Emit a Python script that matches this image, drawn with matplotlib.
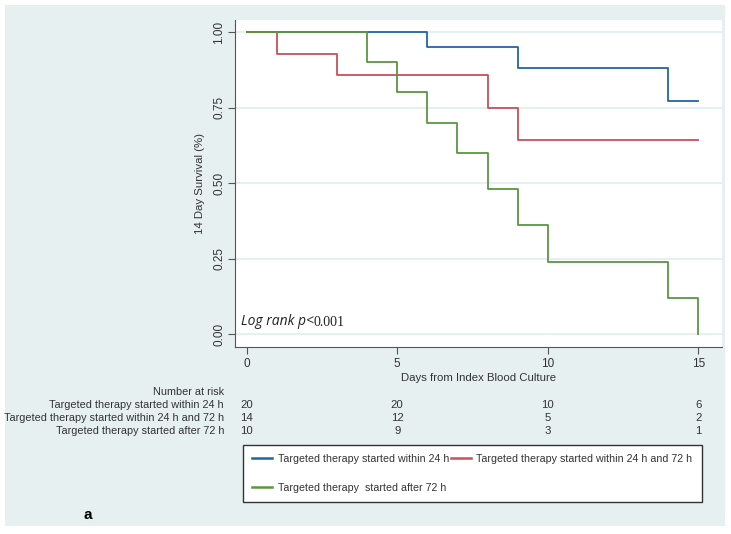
import matplotlib
matplotlib.use('Agg')
import matplotlib.pyplot as plt
from matplotlib.patches import Rectangle
from matplotlib.transforms import blended_transform_factory

# Kaplan-Meier step data
days_24 = [0, 6, 9, 14, 15]
surv_24 = [1.00, 0.95, 0.882, 0.772, 0.772]
days_24_72 = [0, 1, 3, 8, 9, 15]
surv_24_72 = [1.00, 0.929, 0.857, 0.75, 0.643, 0.643]
days_72 = [0, 4, 5, 6, 7, 8, 9, 10, 14, 15]
surv_72 = [1.00, 0.90, 0.80, 0.70, 0.60, 0.48, 0.36, 0.24, 0.12, 0.00]

group_labels = ['Targeted therapy started within 24 h',
                'Targeted therapy started within 24 h and 72 h',
                'Targeted therapy started after 72 h']
legend_labels = ['Targeted therapy started within 24 h',
                 'Targeted therapy started within 24 h and 72 h',
                 'Targeted therapy  started after 72 h']
risk_times = [0, 5, 10, 15]
at_risk = [[20, 20, 10, 6],
           [14, 12, 5, 2],
           [10, 9, 3, 1]]

x_ticks = [0, 5, 10, 15]
y_ticks = [0.0, 0.25, 0.5, 0.75, 1.0]

colors = ['#2166a0', '#c8505a', '#5b9640']
bg = '#e6f0f1'
W, H = 731, 534

plt.rcParams['font.family'] = ['Liberation Sans', 'DejaVu Sans']

fig = plt.figure(figsize=(W / 100, H / 100), dpi=100, facecolor='white')
fig.patches.append(Rectangle((5 / W, 1 - 526 / H), 720 / W, 521 / H,
                             transform=fig.transFigure, facecolor=bg,
                             edgecolor='none', zorder=-10))

ax = fig.add_axes([235 / W, 1 - 346.5 / H, 487 / W, 326.5 / H])
ax.set_facecolor('white')

l1, = ax.step(days_24, surv_24, where='post', color=colors[0], lw=1.3)
l2, = ax.step(days_24_72, surv_24_72, where='post', color=colors[1], lw=1.3)
l3, = ax.step(days_72, surv_72, where='post', color=colors[2], lw=1.3)

ax.set_xlim(-0.39, 15.79)
ax.set_ylim(-0.041, 1.04)
ax.set_xticks(x_ticks)
ax.set_yticks(y_ticks)
ax.set_yticklabels([f'{v:.2f}' for v in y_ticks], rotation=90, va='center')
ax.yaxis.grid(True, color=bg, lw=1.4)
ax.set_axisbelow(True)
for s in ['top', 'right']:
    ax.spines[s].set_visible(False)
for s in ['left', 'bottom']:
    ax.spines[s].set_color('#555555')
ax.tick_params(axis='both', colors='#555555', labelcolor='#333333',
               labelsize=8.5, length=5, direction='out')
ax.tick_params(axis='y', pad=2)
ax.set_xlabel('Days from Index Blood Culture', fontsize=8.2, color='#333333', labelpad=2)
ax.set_ylabel('14 Day Survival (%)', fontsize=8.2, color='#333333', labelpad=6)

t = ax.text(-0.2, 0.03, 'Log rank p<', style='italic', fontsize=10,
            family=['Open Sans', 'DejaVu Sans'], color='#222222')
ax.annotate('0.001', xy=(1, 0), xycoords=t, va='bottom', fontsize=10,
            family=['Liberation Serif', 'DejaVu Serif'], color='#222222')

# number at risk table
fs = 7.8
tr = blended_transform_factory(ax.transData, fig.transFigure)
fig.text(224 / W, 1 - 392 / H, 'Number at risk', ha='right', va='center',
         fontsize=fs, color='#333333')
for i, (lab, row) in enumerate(zip(group_labels, at_risk)):
    yy = 1 - (405 + 13 * i) / H
    fig.text(224 / W, yy, lab, ha='right', va='center', fontsize=fs, color='#333333')
    for tx, n in zip(risk_times, row):
        ax.text(tx, yy, str(n), transform=tr, ha='center', va='center',
                fontsize=8.2, color='#333333')

leg = fig.legend([l1, l3, l2], [legend_labels[0], legend_labels[2], legend_labels[1]],
                 ncol=2, loc='upper left',
                 bbox_to_anchor=(243 / W, 1 - 445 / H),
                 borderaxespad=0, fancybox=False, framealpha=1,
                 edgecolor='#333333', fontsize=7.7, handlelength=1.9,
                 handletextpad=0.5, columnspacing=0.15, labelspacing=1.75,
                 borderpad=0.85)
leg.get_frame().set_linewidth(1.0)
for txt in leg.get_texts():
    txt.set_color('#333333')
for h in leg.legend_handles:
    h.set_linewidth(1.8)

fig.text(88 / W, 1 - 515 / H, 'a', fontsize=11, fontweight='bold',
         family=['Liberation Sans', 'DejaVu Sans'], ha='center', va='center')

fig.savefig('out.png', dpi=100, facecolor='white')
